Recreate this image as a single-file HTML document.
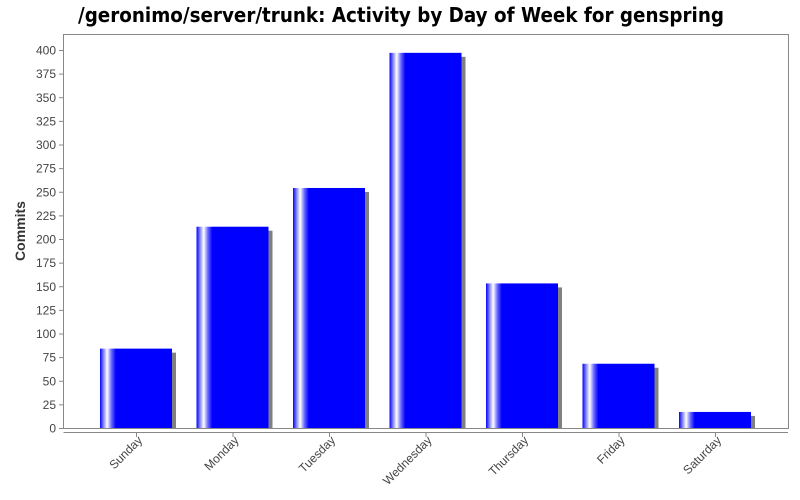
<!DOCTYPE html>
<html><head><meta charset="utf-8"><style>
body{margin:0;background:#fff;}
svg{display:block;font-family:"Liberation Sans",sans-serif;}
</style></head><body>
<svg id="chart" width="800" height="500" viewBox="0 0 800 500">
<defs>
<linearGradient id="barGrad" x1="0" x2="1" y1="0" y2="0">
<stop offset="0" stop-color="#0000ff"/>
<stop offset="0.05" stop-color="#8888ff"/>
<stop offset="0.1" stop-color="#ffffff"/>
<stop offset="0.16" stop-color="#6666ff"/>
<stop offset="0.22" stop-color="#0000ff"/>
<stop offset="1" stop-color="#0000ff"/>
</linearGradient>
</defs>
<text x="78" y="22" textLength="646" lengthAdjust="spacingAndGlyphs" font-size="20" font-weight="bold" font-family="'DejaVu Sans',sans-serif">/geronimo/server/trunk: Activity by Day of Week for genspring</text>
<rect x="63.5" y="34.5" width="725" height="394" fill="#fff" stroke="#888"/>
<line x1="63.5" y1="432.5" x2="788" y2="432.5" stroke="#888"/>
<text transform="translate(25,231) rotate(-90)" text-anchor="middle" font-size="14" font-weight="bold" fill="#333">Commits</text>
<g id="yaxis"></g><g id="bars"></g><g id="xaxis"></g>
</svg>
<script>
const categories=["Sunday","Monday","Tuesday","Wednesday","Thursday","Friday","Saturday"];
const commits=[84,213,254,397,153,68,17];
const yTicks=[0,25,50,75,100,125,150,175,200,225,250,275,300,325,350,375,400];
const NS="http://www.w3.org/2000/svg";
function y(v){return 428-v*0.945;}
function xc(i){return 136+i*96.5;}
function mk(tag,attrs,parent){const e=document.createElementNS(NS,tag);for(const k in attrs)e.setAttribute(k,attrs[k]);parent.appendChild(e);return e;}
const ya=document.getElementById('yaxis'),bg=document.getElementById('bars'),xa=document.getElementById('xaxis');
yTicks.forEach(t=>{
  const l=mk('line',{x1:59,x2:63,y1:y(t)+0.5,y2:y(t)+0.5,stroke:'#888'},ya);
  
  
  const tx=mk('text',{x:56,y:y(t)+4.5,'text-anchor':'end','font-size':12,fill:'#444'},ya);
  tx.textContent=t;
  
  
});
categories.forEach((c,i)=>{
  const x=xc(i)-36,top=y(commits[i]);
  const s=mk('rect',{x:x+4,y:top+4,width:72,height:428-top-4,fill:'#808080'},bg);
  
  
  const b=mk('rect',{x:x,y:top,width:72,height:428-top,fill:'url(#barGrad)'},bg);
  
  
  const tk=mk('line',{x1:xc(i)+0.5,x2:xc(i)+0.5,y1:433,y2:437,stroke:'#888'},xa);
  
  
  const ax=xc(i)+7,ay=441;
  const tx=mk('text',{x:ax,y:ay,'text-anchor':'end','font-size':12,fill:'#444',transform:`rotate(-45 ${ax} ${ay})`},xa);
  tx.textContent=c;
  
  
});
</script>
</body></html>
